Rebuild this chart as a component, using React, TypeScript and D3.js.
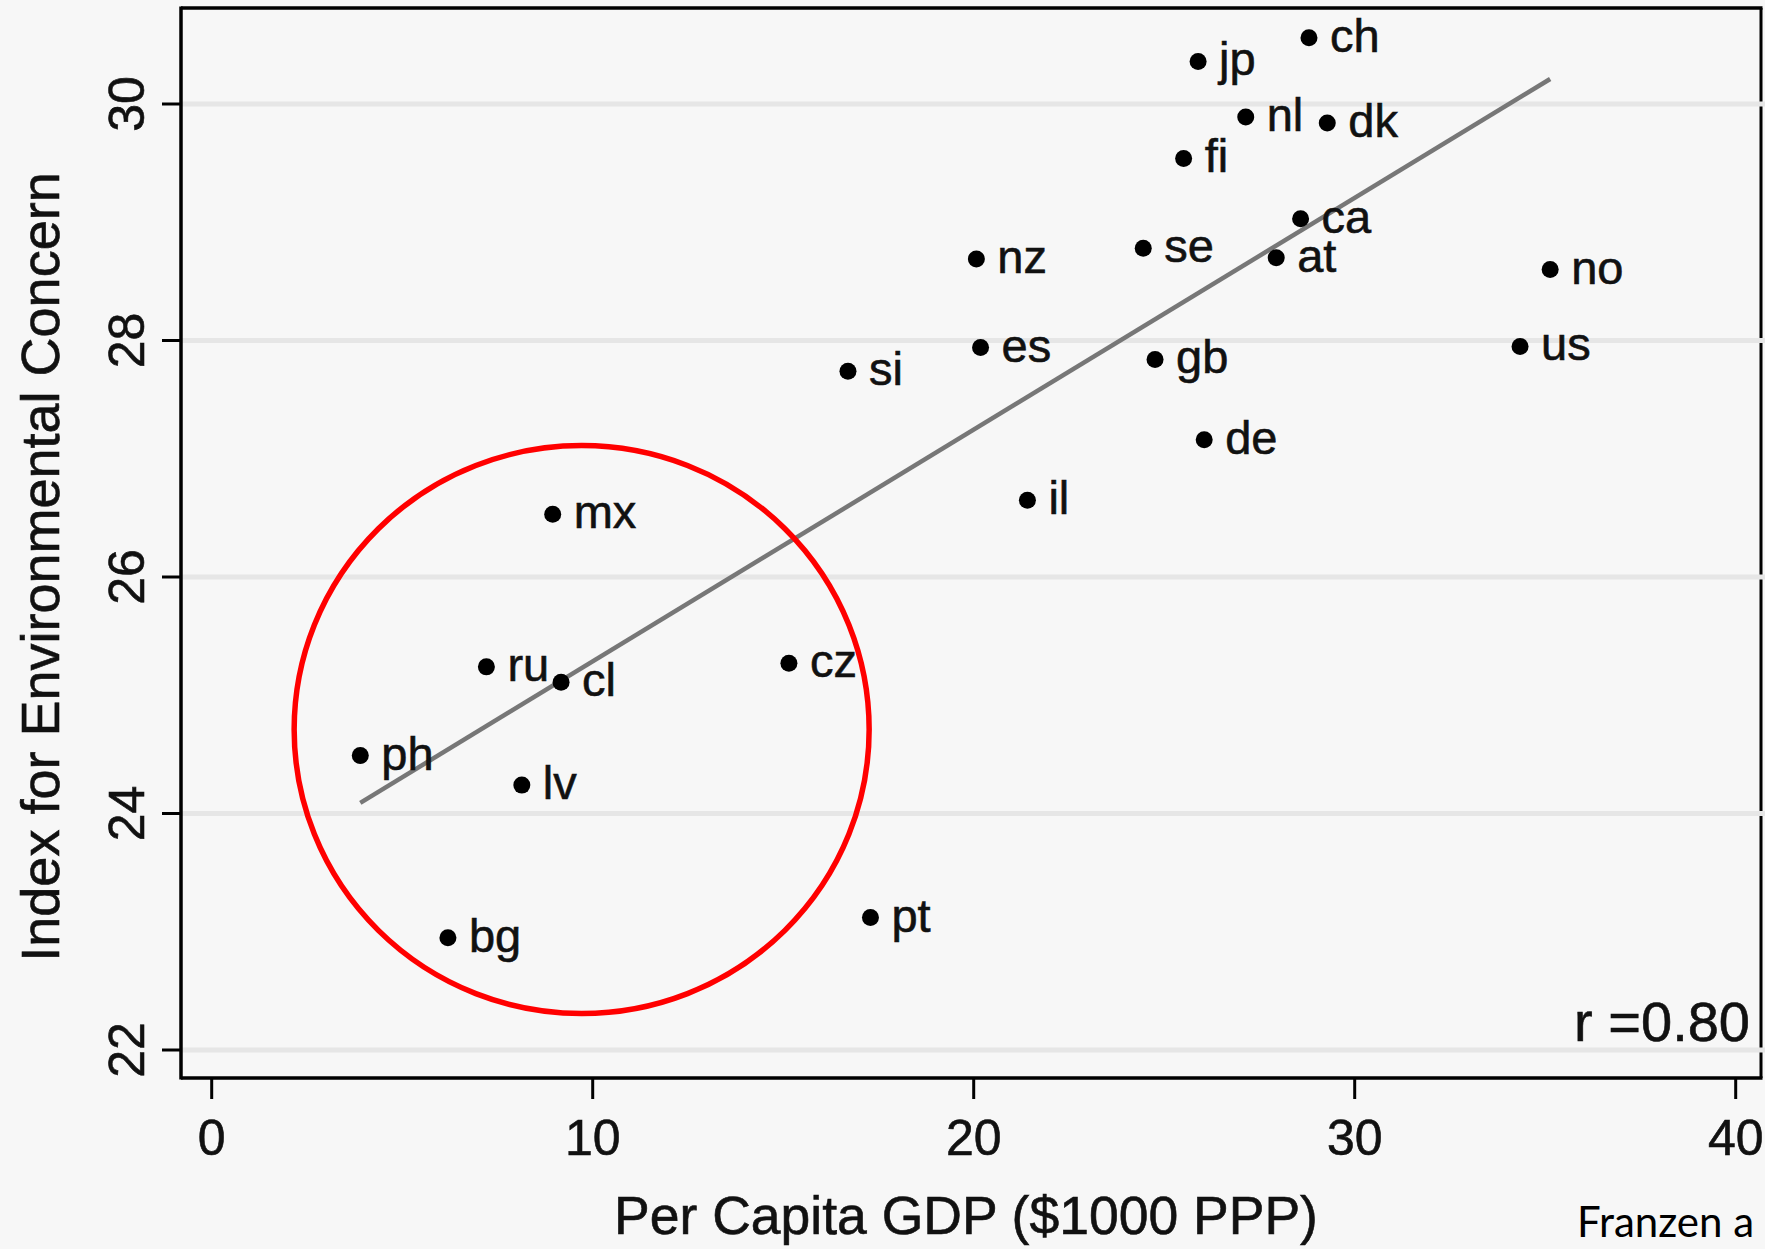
import React from "react";
import * as d3 from "d3";

const countries = ["ch","jp","nl","dk","fi","ca","se","at","nz","no","es","us","si","gb","de","il","mx","ru","cl","cz","ph","lv","bg","pt"];
const gdp = [28.80,25.89,27.14,29.28,25.51,28.58,24.45,27.94,20.07,35.13,20.18,34.34,16.70,24.76,26.05,21.41,8.95,7.21,9.17,15.15,3.90,8.14,6.20,17.29];
const concern = [30.56,30.36,29.89,29.84,29.54,29.03,28.78,28.70,28.69,28.60,27.94,27.95,27.74,27.84,27.16,26.65,26.53,25.24,25.11,25.27,24.49,24.24,22.95,23.12];
const xTicks = [0, 10, 20, 30, 40];
const yTicks = [22, 24, 26, 28, 30];
const fitIntercept = 23.326;
const fitSlope = 0.196;
const rLabel = "r =0.80";
const xTitle = "Per Capita GDP ($1000 PPP)";
const yTitle = "Index for Environmental Concern";
const sourceText = "Franzen a";
const highlightCenter = [9.71, 24.71];

const W = 1765, H = 1249;
const frame = { left: 181, right: 1761, top: 8, bottom: 1078 };
const FONT = "'Liberation Sans', Arial, Helvetica, sans-serif";
const BG = "#f7f7f7";

export default function App() {
  const x = d3.scaleLinear().domain([0, 40]).range([211.7, 1735.7]);
  const y = d3.scaleLinear().domain([22, 30]).range([1050, 104]);
  const pts = countries.map((c, i) => ({ c, gx: gdp[i], cy: concern[i] }));
  const x0 = d3.min(gdp) as number;
  const x1 = d3.max(gdp) as number;
  const line = d3.line<number>().x((d) => x(d)).y((d) => y(fitIntercept + fitSlope * d));
  const txt = "#111";
  const heavy = { stroke: txt, strokeWidth: 0.6 } as const;

  return (
    <div style={{ position: "absolute", left: 0, top: 0, width: W, height: H, overflow: "hidden" }}>
      <svg width={W} height={H} style={{ display: "block" }}>
        <rect x={0} y={0} width={W} height={H} fill={BG} />
        <line x1={frame.right} x2={frame.right} y1={frame.top} y2={frame.bottom} stroke="#000" strokeWidth={3} />
        {yTicks.map((t) => (
          <line key={"g" + t} x1={frame.left} x2={W} y1={y(t)} y2={y(t)} stroke="#e6e6e6" strokeWidth={5} />
        ))}
        <line x1={frame.left} x2={frame.right + 1.5} y1={frame.top} y2={frame.top} stroke="#000" strokeWidth={3.5} />
        <line x1={frame.left} x2={frame.left} y1={frame.top - 1.5} y2={frame.bottom + 1.5} stroke="#000" strokeWidth={3.5} />
        <line x1={frame.left} x2={frame.right + 1.5} y1={frame.bottom} y2={frame.bottom} stroke="#000" strokeWidth={3.5} />
        {yTicks.map((t) => (
          <g key={"y" + t}>
            <line x1={frame.left - 19} x2={frame.left} y1={y(t)} y2={y(t)} stroke="#000" strokeWidth={3} />
            <text
              transform={`translate(144,${y(t)}) rotate(-90)`}
              textAnchor="middle"
              fontFamily={FONT}
              fontSize={50}
              fill={txt}
              {...heavy}
            >
              {t}
            </text>
          </g>
        ))}
        {xTicks.map((t) => (
          <g key={"x" + t}>
            <line x1={x(t)} x2={x(t)} y1={frame.bottom} y2={frame.bottom + 21} stroke="#000" strokeWidth={3} />
            <text x={x(t)} y={1155} textAnchor="middle" fontFamily={FONT} fontSize={50} fill={txt} {...heavy}>
              {t}
            </text>
          </g>
        ))}
        <path d={line([x0, x1]) || ""} fill="none" stroke="#777" strokeWidth={4.5} />
        {pts.map((p) => (
          <g key={p.c}>
            <circle cx={x(p.gx)} cy={y(p.cy)} r={8.5} fill="#000" />
            <text x={x(p.gx) + 21} y={y(p.cy) + 14} fontFamily={FONT} fontSize={47} fill={txt} {...heavy}>
              {p.c}
            </text>
          </g>
        ))}
        <text x={1750} y={1041} textAnchor="end" fontFamily={FONT} fontSize={56} fill={txt} {...heavy}>
          {rLabel}
        </text>
        <ellipse
          cx={x(highlightCenter[0])}
          cy={y(highlightCenter[1])}
          rx={287.5}
          ry={284}
          fill="none"
          stroke="#ff0000"
          strokeWidth={5.5}
        />
        <text x={966} y={1234} textAnchor="middle" fontFamily={FONT} fontSize={53.5} fill={txt} {...heavy}>
          {xTitle}
        </text>
        <text transform="translate(59,567) rotate(-90)" textAnchor="middle" fontFamily={FONT} fontSize={54} fill={txt} {...heavy}>
          {yTitle}
        </text>
        <text x={1577} y={1237} fontFamily="Lato, 'Open Sans', sans-serif" fontSize={42} fill="#000">
          {sourceText}
        </text>
      </svg>
    </div>
  );
}
